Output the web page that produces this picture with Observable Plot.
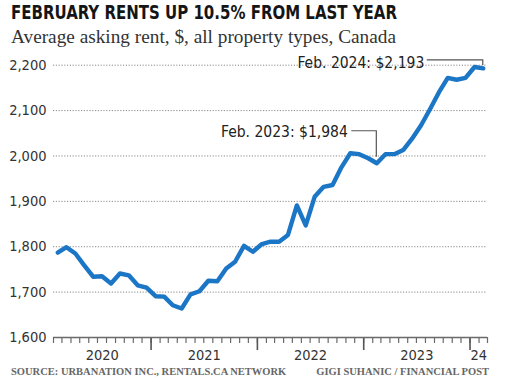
<!DOCTYPE html>
<html><head><meta charset="utf-8">
<script src="https://cdn.jsdelivr.net/npm/d3@7"></script>
<script src="https://cdn.jsdelivr.net/npm/@observablehq/plot@0.6"></script>
<style>
body{margin:0;width:505px;height:390px;background:#fff;position:relative;overflow:hidden}
#title{position:absolute;left:11px;top:1px;font-family:"DejaVu Sans Condensed","DejaVu Sans",sans-serif;font-stretch:condensed;font-weight:bold;font-size:19.5px;line-height:24px;color:#151515;white-space:nowrap;transform-origin:0 0}
#sub{position:absolute;left:11px;top:27px;font-family:"Liberation Serif",serif;font-size:18.5px;line-height:20px;color:#333;white-space:nowrap;transform-origin:0 0}
#chart{position:absolute;left:0;top:52px}
.foot{position:absolute;top:366px;font-family:"Liberation Serif",serif;font-weight:bold;font-size:10.5px;line-height:12px;color:#666;white-space:nowrap}
</style></head><body>
<div id="title">FEBRUARY RENTS UP 10.5% FROM LAST YEAR</div>
<div id="sub">Average asking rent, $, all property types, Canada</div>
<div id="chart"></div>
<div class="foot" style="left:11px">SOURCE: URBANATION INC., RENTALS.CA NETWORK</div>
<div class="foot" style="right:16px">GIGI SUHANIC / FINANCIAL POST</div>
<script>
const months = [
  "2020-02","2020-03","2020-04","2020-05","2020-06","2020-07","2020-08","2020-09","2020-10","2020-11","2020-12",
  "2021-01","2021-02","2021-03","2021-04","2021-05","2021-06","2021-07","2021-08","2021-09","2021-10","2021-11","2021-12",
  "2022-01","2022-02","2022-03","2022-04","2022-05","2022-06","2022-07","2022-08","2022-09","2022-10","2022-11","2022-12",
  "2023-01","2023-02","2023-03","2023-04","2023-05","2023-06","2023-07","2023-08","2023-09","2023-10","2023-11","2023-12",
  "2024-01","2024-02"
];
const rents = [
  1787,1799,1785,1759,1734,1735,1719,1741,1737,1715,1710,
  1691,1690,1671,1664,1695,1702,1725,1724,1752,1767,1802,1789,
  1806,1811,1811,1826,1891,1847,1910,1932,1936,1975,2006,2004,
  1995,1984,2004,2004,2013,2038,2067,2103,2140,2172,2168,2172,
  2196,2193
];
const yTicks = [1600,1700,1800,1900,2000,2100,2200];
const yearNames = ["2020","2021","2022","2023","2024"];
const yearLabels = ["2020","2021","2022","2023","24"];
const noteMonths = ["2023-02","2024-02"];
const noteLabels = ["Feb. 2023: $1,984","Feb. 2024: $2,193"];

// fit header texts to the reference widths
function fitWidth(id, target) {
  const el = document.getElementById(id);
  const w = el.getBoundingClientRect().width;
  if (w > 0) el.style.transform = `scaleX(${target / w})`;
}
fitWidth("title", 386);
fitWidth("sub", 385);

const monthStart = s => { const [y,m] = s.split("-").map(Number); return new Date(Date.UTC(y, m-1, 1)); };
const monthMid = s => { const a = monthStart(s); const b = d3.utcMonth.offset(a,1); return new Date((+a + +b)/2); };
const data = months.map((m,i) => ({date: monthMid(m), value: rents[i]}));
const x0 = monthStart(months[0]);
const x1 = d3.utcMonth.offset(monthStart(months[months.length-1]),1);
const monthTicks = d3.utcMonth.range(x0, d3.utcMonth.offset(x1,1));
const yearTicks = d3.utcYear.range(d3.utcYear.ceil(x0), x1);
const yearCenters = yearNames.map(y => {
  const a = new Date(Math.max(+x0, Date.UTC(+y,0,1)));
  const b = new Date(Math.min(+x1, Date.UTC(+y+1,0,1)));
  return new Date((+a + +b)/2);
});
const notes = noteMonths.map((m,i) => ({date: monthMid(m), value: rents[months.indexOf(m)], label: noteLabels[i]}));

const font = '"DejaVu Sans Condensed","DejaVu Sans",sans-serif';
const plot = Plot.plot({
  width: 505, height: 312,
  marginLeft: 53, marginRight: 18, marginTop: 12.7, marginBottom: 27,
  style: {fontFamily: font, fontStretch: "condensed", fontSize: "14.5px", color: "#333", background: "transparent", overflow: "visible"},
  x: {type: "utc", domain: [x0, x1], axis: null},
  y: {domain: [1600, 2200], axis: null},
  marks: [
    Plot.gridY(yTicks.filter(v => v > 1600), {stroke: "#8a8a8a", strokeOpacity: 1, strokeWidth: 1, strokeDasharray: "1.2,1.6"}),
    Plot.axisY(yTicks, {tickSize: 0, tickPadding: 7, tickFormat: d3.format(","), label: null, fill: "#333"}),
    Plot.axisX(monthTicks, {tickSize: 6, tickFormat: () => "", label: null, stroke: "#6a6a6a", strokeWidth: 1.2}),
    Plot.axisX(yearTicks, {tickSize: 13, tickFormat: () => "", label: null, stroke: "#555", strokeWidth: 1.6}),
    Plot.axisX(yearCenters, {tickSize: 0, tickPadding: 12, tickFormat: (d, i) => yearLabels[i], label: null, fill: "#333"}),
    Plot.ruleY([1600], {stroke: "#6a6a6a", strokeWidth: 1.6}),
    Plot.line(data, {x: "date", y: "value", stroke: "#1c76c6", strokeWidth: 4.4, strokeLinejoin: "round", strokeLinecap: "round"}),
    Plot.text(notes.slice(0,1), {x: "date", y: "value", text: "label", textAnchor: "end", dx: -29, dy: -31, fontSize: 15.5, fill: "#222"}),
    Plot.text(notes.slice(1), {x: "date", y: "value", text: "label", textAnchor: "end", dx: -59, dy: -5, fontSize: 15.5, fill: "#222"})
  ]
});
document.getElementById("chart").appendChild(plot);
const sx = plot.scale("x"), sy = plot.scale("y");
const svg = d3.select(plot);
const leader = [[6, 32, 25], [3, 8, 56]];
notes.forEach((n, i) => {
  const px = sx.apply(n.date), py = sy.apply(n.value);
  const [gap, rise, run] = leader[i];
  svg.append("path")
    .attr("d", `M${px},${py-gap}V${py-rise}H${px-run}`)
    .attr("fill", "none").attr("stroke", "#555").attr("stroke-width", 1.2);
});
</script>
</body></html>
